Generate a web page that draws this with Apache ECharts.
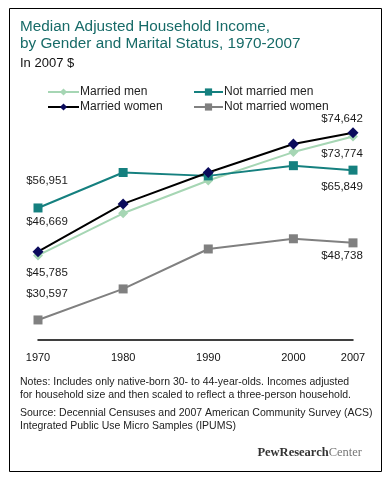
<!DOCTYPE html>
<html><head><meta charset="utf-8">
<script src="https://cdn.jsdelivr.net/npm/echarts@6/dist/echarts.min.js"></script>
<style>html,body{margin:0;padding:0;background:#fff}#c{width:385px;height:480px}</style>
</head><body><div id="c"></div>
<script>
const years = [1970, 1980, 1990, 2000, 2007];
const marriedMen = [45785, 55700, 63400, 70100, 73774];
const notMarriedMen = [56951, 65300, 64500, 66900, 65849];
const marriedWomen = [46669, 57900, 65300, 72000, 74642];
const notMarriedWomen = [30597, 37900, 47300, 49700, 48738];
const xTickLabels = [1970, 1980, 1990, 2000, 2007];

const labelSpec = {
  'Married men': {0: [9, 17], 4: [-11, 17.5]},
  'Not married men': {0: [9, -27], 4: [-11, 17]},
  'Married women': {0: [9, -30], 4: [-11, -14]},
  'Not married women': {0: [9, -26], 4: [-11, 13]}
};
const font = 'Liberation Sans';
const fmt = v => '$' + v.toLocaleString('en-US');
function build(name, vals) {
  return vals.map((v, i) => {
    const o = {value: [years[i], v]};
    const s = labelSpec[name][i];
    if (s) o.label = {show: true, position: 'inside', offset: s, formatter: fmt(v),
      color: '#1a1a1a', fontSize: 11.5, fontFamily: font};
    return o;
  });
}
const chart = echarts.init(document.getElementById('c'), null, {renderer: 'canvas'});
chart.setOption({
  animation: false,
  textStyle: {fontFamily: font},
  grid: {left: 38, width: 315, top: 110, height: 229.5, containLabel: false},
  xAxis: {type: 'value', min: 1970, max: 2007,
    axisLine: {show: true, lineStyle: {color: '#000', width: 1.5}},
    axisTick: {show: false}, splitLine: {show: false},
    axisLabel: {customValues: xTickLabels, formatter: v => String(v), color: '#111', fontSize: 11, margin: 13, fontFamily: font}},
  yAxis: {type: 'value', min: 26000, max: 80000, show: false, splitLine: {show: false}},
  legend: [
    {data: ['Married men', 'Married women'], left: 42, top: 81, orient: 'vertical', itemGap: 3,
      itemWidth: 31, itemHeight: 9, textStyle: {fontSize: 12, color: '#222', fontFamily: font, padding: [0,0,0,-4]}},
    {data: ['Not married men', 'Not married women'], left: 188, top: 81, orient: 'vertical', itemGap: 3,
      itemWidth: 29, itemHeight: 9, textStyle: {fontSize: 12, color: '#222', fontFamily: font, padding: [0,0,0,-4]}}
  ],
  series: [
    {name: 'Married men', type: 'line', data: build('Married men', marriedMen),
      symbol: 'diamond', symbolSize: 10, lineStyle: {color: '#a6d6b4', width: 2}, itemStyle: {color: '#a6d6b4'}},
    {name: 'Not married men', type: 'line', data: build('Not married men', notMarriedMen),
      symbol: 'rect', symbolSize: 9, lineStyle: {color: '#15807f', width: 2}, itemStyle: {color: '#15807f'}},
    {name: 'Married women', type: 'line', data: build('Married women', marriedWomen),
      symbol: 'diamond', symbolSize: 11, lineStyle: {color: '#000', width: 2}, itemStyle: {color: '#0b0b5c'}},
    {name: 'Not married women', type: 'line', data: build('Not married women', notMarriedWomen),
      symbol: 'rect', symbolSize: 9, lineStyle: {color: '#808080', width: 2}, itemStyle: {color: '#808080'}}
  ],
  graphic: [
    {type: 'rect', shape: {x: 9.5, y: 8.5, width: 372, height: 463}, style: {fill: null, stroke: '#000', lineWidth: 1}, silent: true},
    {type: 'text', left: 20, top: 18, style: {text: 'Median Adjusted Household Income,\nby Gender and Marital Status, 1970-2007',
      fill: '#176b68', font: '15.3px "Liberation Sans"', lineHeight: 17}},
    {type: 'text', left: 20, top: 57, style: {text: 'In 2007 $', fill: '#111', font: '13px "Liberation Sans"'}},
    {type: 'text', left: 20, top: 376, style: {text: 'Notes: Includes only native-born 30- to 44-year-olds. Incomes adjusted\nfor household size and then scaled to reflect a three-person household.',
      fill: '#222', font: '10.5px "Liberation Sans"', lineHeight: 13}},
    {type: 'text', left: 20, top: 407, style: {text: 'Source: Decennial Censuses and 2007 American Community Survey (ACS)\nIntegrated Public Use Micro Samples (IPUMS)',
      fill: '#222', font: '10.5px "Liberation Sans"', lineHeight: 13}},
    {type: 'text', right: 23, top: 446, style: {text: '{a|PewResearch}{b|Center}',
      rich: {a: {fill: '#333', font: 'bold 12.5px "Liberation Serif"'}, b: {fill: '#777', font: '12.5px "Liberation Serif"'}}}}
  ]
});
</script></body></html>
